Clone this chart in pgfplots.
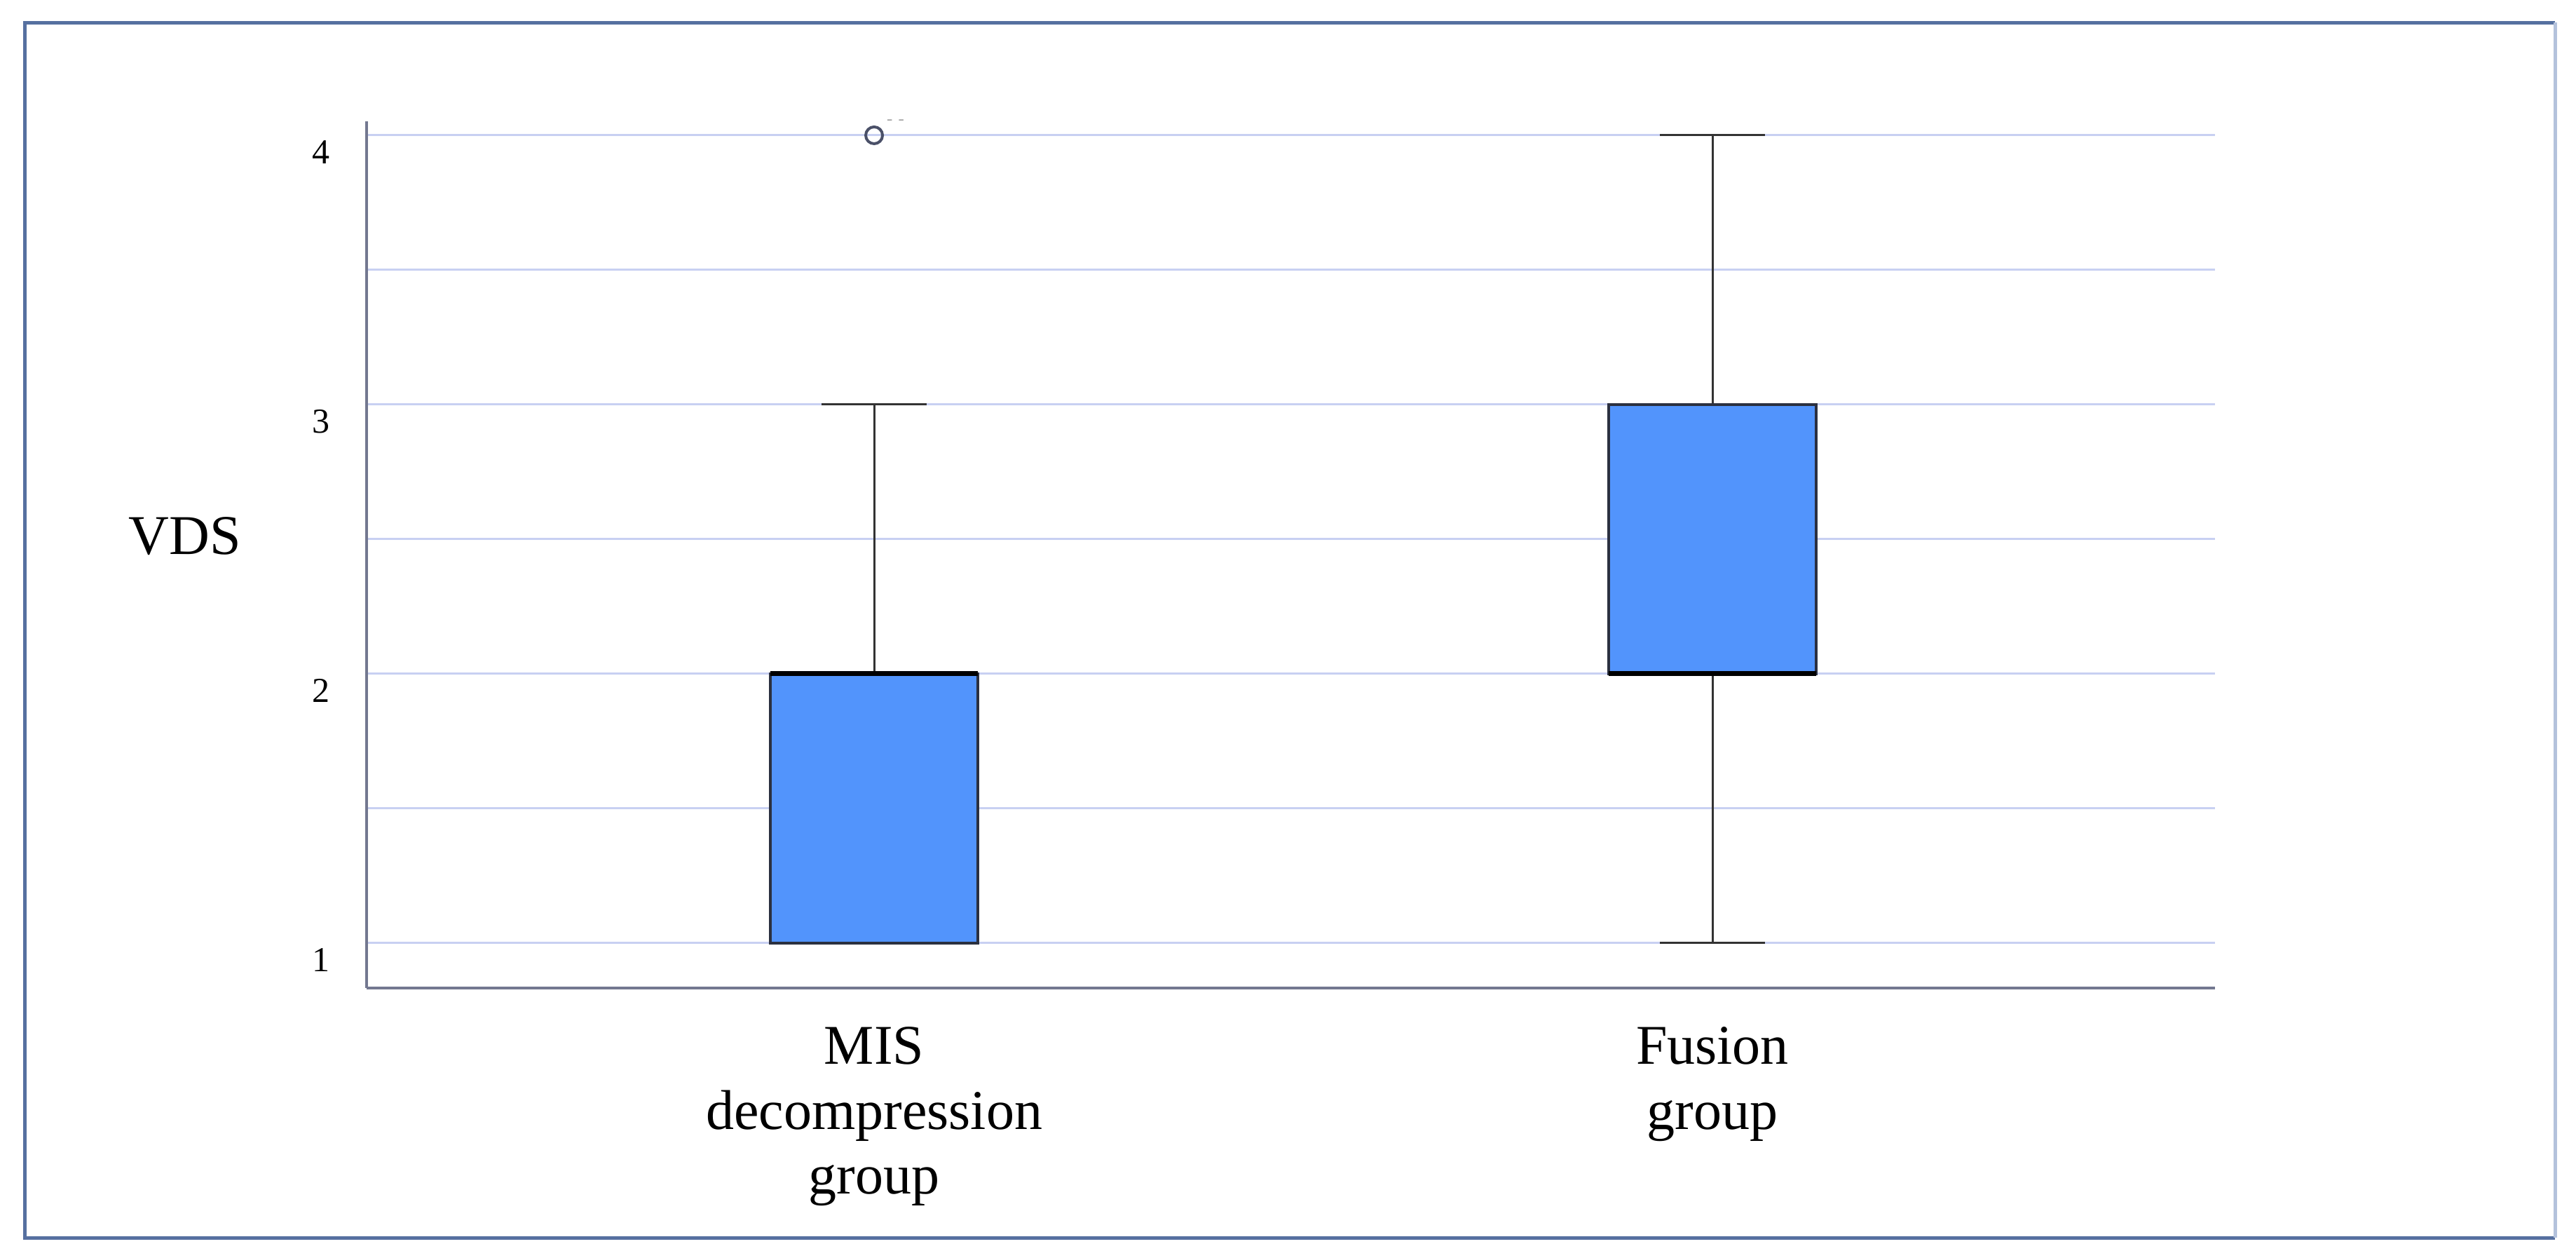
\documentclass[border=0pt]{standalone}
\usepackage{pgfplots}
\pgfplotsset{compat=1.18}
\usepgfplotslibrary{statistics}
\usepackage{fontspec}
\setmainfont{Liberation Serif}
\definecolor{boxblue}{HTML}{5294FC}
\definecolor{boxedge}{HTML}{2B3040}
\definecolor{gridc}{HTML}{C8D0F2}
\definecolor{axisc}{HTML}{737890}
\definecolor{framec}{HTML}{5670A0}
\definecolor{framer}{HTML}{B4C2DC}
\definecolor{outc}{HTML}{4A5068}
\begin{document}
\begin{tikzpicture}
\path (0,0) rectangle (735pt,358.6pt);
\draw[framec, line width=1pt] (729pt,5.6pt) -- (7pt,5.6pt) -- (7pt,352.1pt) -- (729pt,352.1pt);
\draw[framer, line width=1pt] (729pt,5.6pt) -- (729pt,352.1pt);
\begin{axis}[
  at={(104.6pt,76.8pt)}, anchor=south west,
  scale only axis, width=527.4pt, height=247.2pt,
  xmin=0.3946, xmax=2.5995, ymin=0.8333, ymax=4.052,
  boxplot/draw direction=y,
  axis x line*=bottom, axis y line*=left,
  axis line style={axisc, line width=0.7pt, -},
  xtick={1,2},
  xticklabels={{MIS\\decompression\\group},{Fusion\\group}},
  ytick={1,2,3,4}, yticklabels={1,2,3,4},
  minor ytick={1.5,2.5,3.5},
  ymajorgrids, yminorgrids,
  major grid style={gridc, line width=0.6pt},
  minor grid style={gridc, line width=0.6pt},
  major tick length=0pt, minor tick length=0pt,
  tick style={draw=none},
  xticklabel style={align=center, font=\fontsize{16}{18.5}\selectfont, inner sep=0pt, yshift=-11pt},
  yticklabel style={font=\fontsize{10}{12}\selectfont, inner sep=0pt, xshift=-10.2pt, yshift=-4.8pt},
  clip=false,
]
\addplot[boxplot prepared={lower whisker=1, lower quartile=1, median=2, upper quartile=2, upper whisker=3,
    draw position=1, box extend=0.2475, whisker extend=0.125,
    every box/.style={draw=boxedge, fill=boxblue, line width=0.7pt},
    every median/.style={black, line width=1.4pt},
    every whisker/.style={draw=black!80, line width=0.6pt}},
    mark=o, mark size=2.4pt, mark options={draw=outc, fill=white, line width=0.8pt}]
  table[row sep=\\, y index=0] {y\\ 4\\};
\addplot[boxplot prepared={lower whisker=1, lower quartile=2, median=2, upper quartile=3, upper whisker=4,
    draw position=2, box extend=0.2475, whisker extend=0.125,
    every box/.style={draw=boxedge, fill=boxblue, line width=0.7pt},
    every median/.style={black, line width=1.4pt},
    every whisker/.style={draw=black!80, line width=0.6pt}}]
  coordinates {};
\node[font=\fontsize{5}{5}\selectfont, text=black!35, anchor=west, inner sep=0pt, xshift=3.4pt, yshift=3.8pt] at (axis cs:1,4) {-\,\,-};
\node[anchor=east, font=\fontsize{16}{18}\selectfont, inner sep=0pt, xshift=-35.6pt] at (axis description cs:0,0.5215) {VDS};
\end{axis}
\end{tikzpicture}
\end{document}
